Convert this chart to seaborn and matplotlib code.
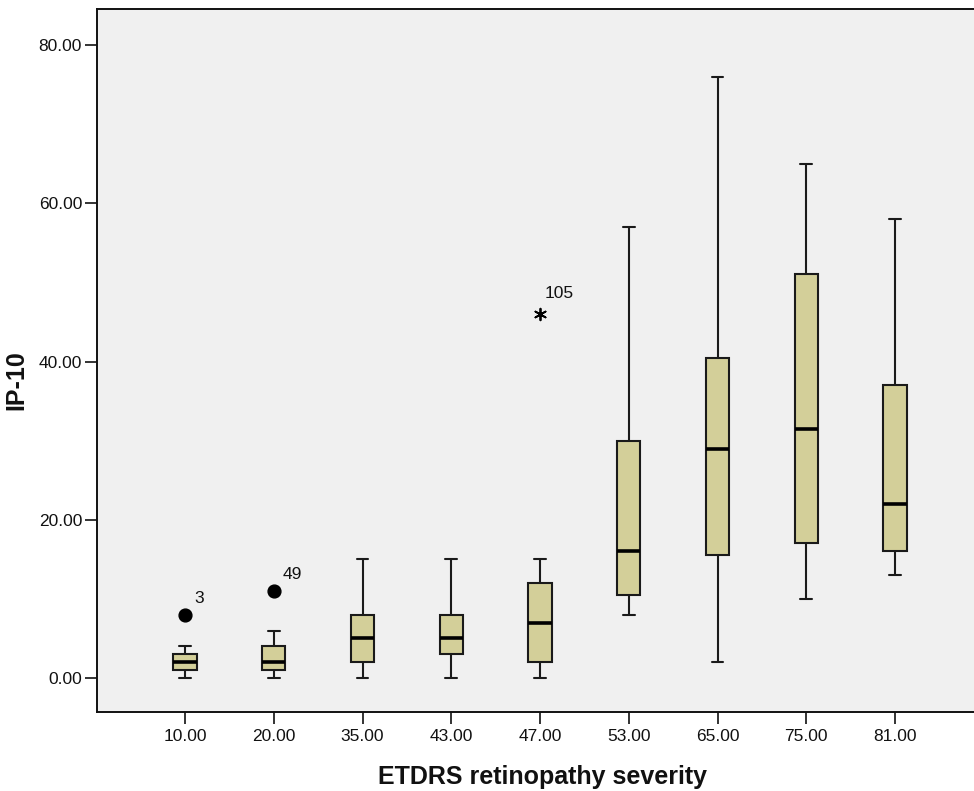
import matplotlib
matplotlib.use("Agg")
import matplotlib.pyplot as plt
import seaborn as sns
import pandas as pd
import numpy as np

# ---- data ----
categories = ["10.00", "20.00", "35.00", "43.00", "47.00", "53.00", "65.00", "75.00", "81.00"]
whisker_low = [0, 0, 0, 0, 0, 8, 2, 10, 13]
quartile_1 = [1, 1, 2, 3, 2, 10.5, 15.5, 17, 16]
medians = [2, 2, 5, 5, 7, 16, 29, 31.5, 22]
quartile_3 = [3, 4, 8, 8, 12, 30, 40.5, 51, 37]
whisker_high = [4, 6, 15, 15, 15, 57, 76, 65, 58]

outlier_cats = ["10.00", "20.00"]
outlier_vals = [8, 11]
outlier_ids = ["3", "49"]
extreme_cats = ["47.00"]
extreme_vals = [46]
extreme_ids = ["105"]

y_ticks = [0, 20, 40, 60, 80]
y_tick_labels = ["0.00", "20.00", "40.00", "60.00", "80.00"]

# build a long table: five summary points per group reproduce the box exactly
rows = []
for c, a, b, m, d, e in zip(categories, whisker_low, quartile_1, medians, quartile_3, whisker_high):
    for v in (a, b, m, d, e):
        rows.append({"ETDRS retinopathy severity": c, "IP-10": v})
df = pd.DataFrame(rows)

sns.set_theme(style="white")
plt.rcParams["font.family"] = ["Liberation Sans", "DejaVu Sans"]

W, H = 974, 791
fig = plt.figure(figsize=(W / 100, H / 100), dpi=100)
ax = fig.add_axes([97 / W, (H - 712) / H, 877 / W, (712 - 9) / H])
ax.set_facecolor("#f0f0f0")

box_fill = "#d3cf99"
sns.boxplot(
    data=df, x="ETDRS retinopathy severity", y="IP-10", order=categories,
    whis=(0, 100), width=0.26, color=box_fill, saturation=1, showfliers=False,
    linecolor="#1a1a1a", linewidth=1.5,
    medianprops={"color": "black", "linewidth": 2.6},
    ax=ax,
)
for p in ax.patches:
    p.set_facecolor(box_fill)

pos = {c: i for i, c in enumerate(categories)}
ox = [pos[c] for c in outlier_cats]
ax.scatter(ox, outlier_vals, s=85, color="black", zorder=5)
for x, y, t in zip(ox, outlier_vals, outlier_ids):
    ax.annotate(t, (x, y), xytext=(6.5, 11.5), textcoords="offset points",
                ha="left", va="center", fontsize=12.5, color="#111111")
ex = [pos[c] for c in extreme_cats]
ax.scatter(ex, extreme_vals, s=70, marker=(6, 2, 0), color="black", linewidths=1.3, zorder=5)
for x, y, t in zip(ex, extreme_vals, extreme_ids):
    ax.annotate(t, (x, y), xytext=(3.5, 14.5), textcoords="offset points",
                ha="left", va="center", fontsize=12.5, color="#111111")

ax.set_xlim(-88 / 88.75, -88 / 88.75 + 877 / 88.75)
ax.set_ylim(-(712 - 678) / 7.9125, (678 - 9) / 7.9125)
ax.set_yticks(y_ticks)
ax.set_yticklabels(y_tick_labels)

for s in ["left", "bottom", "top"]:
    ax.spines[s].set_visible(True)
    ax.spines[s].set_color("#111111")
    ax.spines[s].set_linewidth(1.4)
ax.spines["right"].set_visible(False)

ax.tick_params(axis="both", which="major", direction="out", length=8.6, width=1.2,
               color="#111111", labelsize=12.5, labelcolor="#111111")
ax.tick_params(axis="y", pad=2.2, left=True)
ax.tick_params(axis="x", pad=3.6, bottom=True)

ax.set_xlabel("ETDRS retinopathy severity", fontsize=18, fontweight="bold", color="#111111")
ax.set_ylabel("IP-10", fontsize=18, fontweight="bold", color="#111111")
ax.xaxis.set_label_coords((542 - 97) / 877, -(765 - 712) / 703)
ax.yaxis.set_label_coords(-(97 - 28) / 877, (712 - 380) / 703)

fig.savefig("out.png", dpi=100, facecolor="white")
